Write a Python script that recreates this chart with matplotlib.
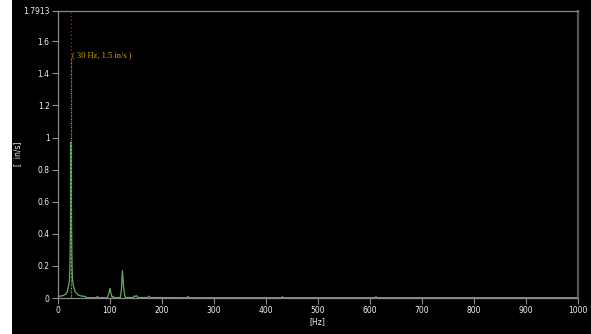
import matplotlib
matplotlib.use("Agg")
import matplotlib.pyplot as plt
from matplotlib.patches import Rectangle

freq_hz = [0, 5, 10, 15, 18, 20, 22, 23, 24, 25, 26, 27, 28, 30, 33, 38, 45, 52, 55, 60,
           74, 76, 78, 95, 98, 100, 102, 104, 106, 108, 120, 122, 124, 126, 128, 130,
           145, 147, 149, 151, 153, 155, 173, 175, 177, 248, 250, 252, 430, 432, 434,
           610, 612, 614, 1000]
amp_ins = [0.01, 0.012, 0.015, 0.025, 0.04, 0.07, 0.11, 0.2, 0.45, 0.97, 0.45, 0.2, 0.11, 0.07,
           0.04, 0.02, 0.012, 0.01, 0.003, 0.002,
           0.002, 0.01, 0.002, 0.002, 0.03, 0.06, 0.03, 0.005, 0.01, 0.002, 0.003, 0.05, 0.17,
           0.08, 0.02, 0.003,
           0.003, 0.012, 0.01, 0.015, 0.005, 0.003, 0.003, 0.012, 0.003, 0.002, 0.01, 0.002,
           0.002, 0.008, 0.002, 0.002, 0.008, 0.002, 0.002]
marker_hz = 25
marker_label = "( 30 Hz, 1.5 in/s )"
marker_val = 1.5
y_max = 1.7913
y_ticks = [0, 0.2, 0.4, 0.6, 0.8, 1, 1.2, 1.4, 1.6, 1.7913]
y_tick_labels = ["0", "0.2", "0.4", "0.6", "0.8", "1", "1.2", "1.4", "1.6", "1.7913"]
x_ticks = [0, 100, 200, 300, 400, 500, 600, 700, 800, 900, 1000]

fig = plt.figure(figsize=(5.91, 3.34), dpi=100, facecolor="black")
fig.patches.append(Rectangle((0, 0), 12 / 591, 1, transform=fig.transFigure,
                             facecolor="white", edgecolor="none", zorder=-1))
ax = fig.add_axes([58 / 591, 1 - 298 / 334, (577.5 - 58) / 591, (298 - 10.5) / 334])
ax.set_facecolor("black")

ax.plot(freq_hz, amp_ins, color="#5fae5f", lw=0.9)
ax.plot([marker_hz, marker_hz], [0, y_max - 0.01], color="#c02020", lw=0.9, ls=(0, (1, 2)))
ax.plot([marker_hz, marker_hz], [0, marker_val], color="#6fbf6f", lw=0.9, ls=(1.5, (1, 2)))
ax.text(marker_hz + 1, marker_val + 0.01, marker_label, color="#d4a800",
        fontsize=6, family="Liberation Serif", va="center", ha="left")

ax.set_xlim(0, 1000)
ax.set_ylim(0, y_max)
ax.set_xticks(x_ticks)
ax.set_yticks(y_ticks)
ax.set_yticklabels(y_tick_labels)
ax.tick_params(colors="#909090", labelcolor="#f0f0f0", labelsize=5.5, length=4, width=0.8,
               direction="out", pad=2)
for side in ["left", "bottom", "top"]:
    ax.spines[side].set_color("#8a8a8a")
    ax.spines[side].set_linewidth(0.9)
ax.spines["right"].set_color("#555555")
ax.spines["right"].set_linewidth(1.6)

ax.set_xlabel("[Hz]", color="#f0f0f0", fontsize=5.5, labelpad=1)
ax.set_ylabel("[  in/s]", color="#f0f0f0", fontsize=5.5)
ax.yaxis.set_label_coords((22 - 58) / 519.5, 0.5)

fig.savefig("out.png", dpi=100, facecolor="black")
